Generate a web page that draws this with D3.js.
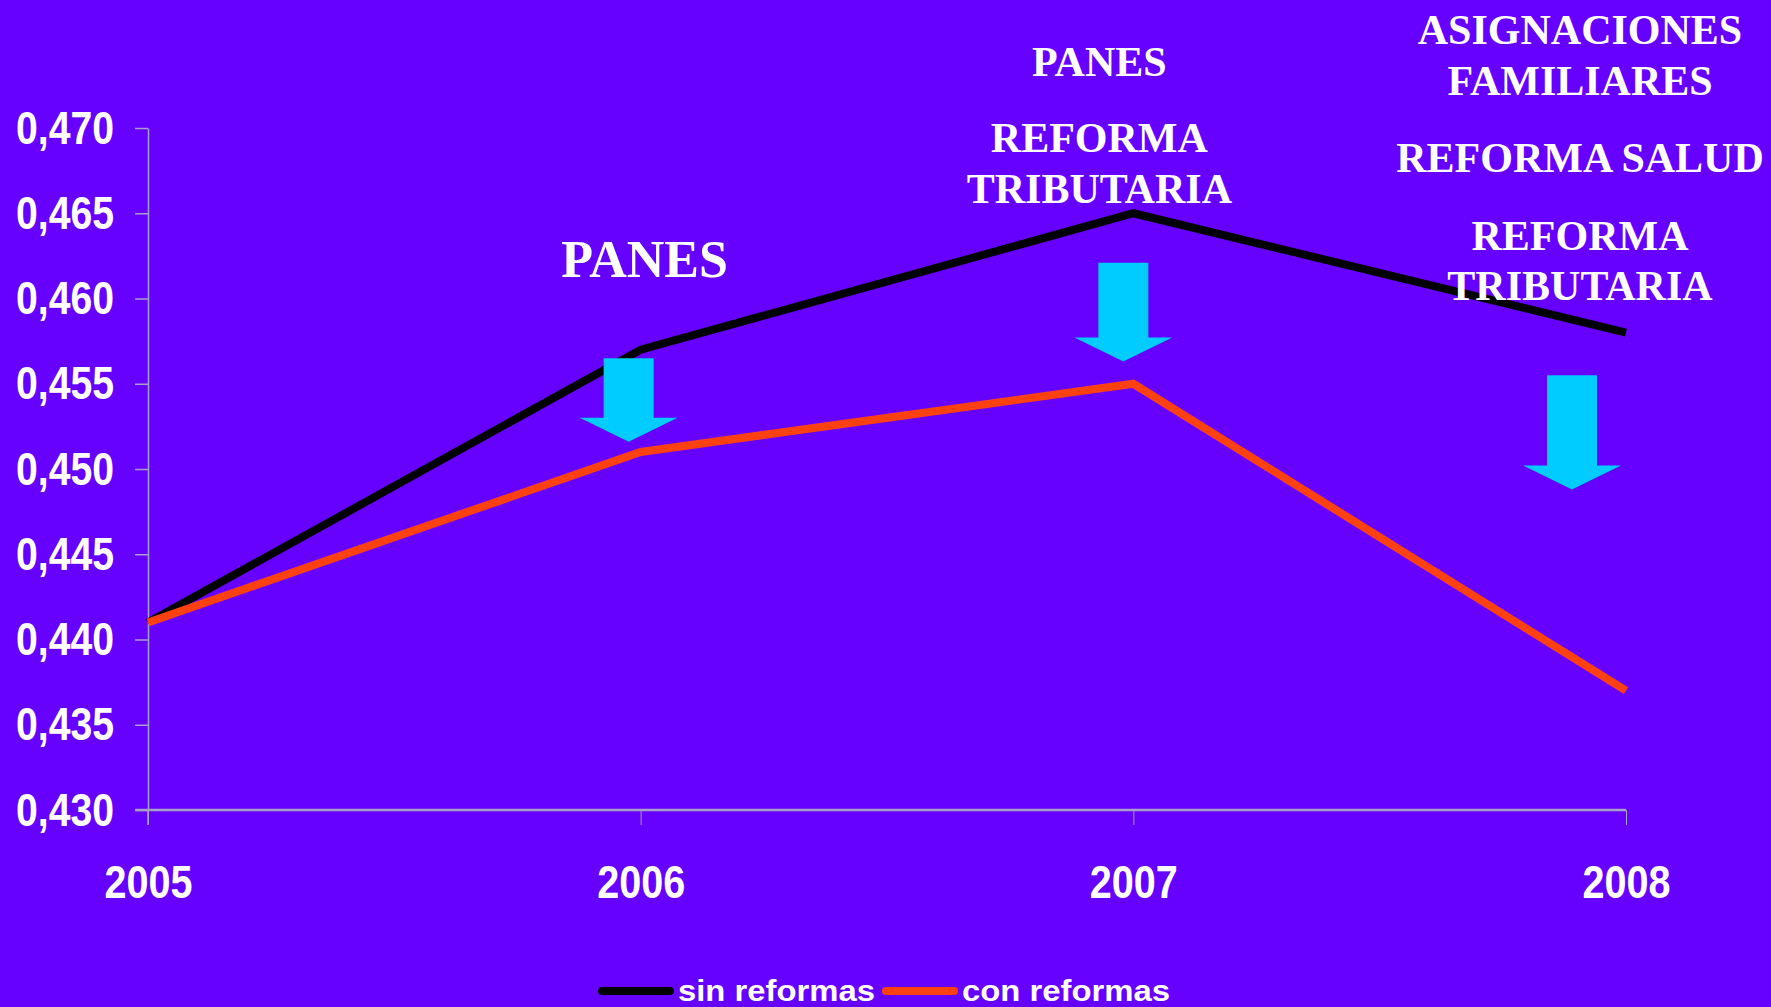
<!DOCTYPE html>
<html>
  <head>
    <meta charset="utf-8">
    <title>Indice de Gini con y sin reformas</title>
    <style>
      html, body { margin: 0; padding: 0; background: #6600ff; overflow: hidden; }
      svg { display: block; }
      .tick text { font-family: "Liberation Sans Narrow", "Arial Narrow", "Liberation Sans", sans-serif; font-weight: bold; fill: #fff; }
      .note { font-family: "Liberation Serif", "Times New Roman", serif; font-weight: bold; fill: #fff; text-anchor: middle; }
      .legend text { font-family: "Liberation Sans Narrow", "Arial Narrow", "Liberation Sans", sans-serif; font-weight: bold; fill: #fff; }
    </style>
  </head>
  <body>
    <script src="https://d3js.org/d3.v7.min.js"></script>
    <script>
      // data
      const years = ["2005", "2006", "2007", "2008"];
      const sinReformas = [0.441, 0.457, 0.465, 0.458];
      const conReformas = [0.441, 0.451, 0.455, 0.437];
      const yTicks = [0.430, 0.435, 0.440, 0.445, 0.450, 0.455, 0.460, 0.465, 0.470];
      const seriesNames = ["sin reformas", "con reformas"];

      // arrows: year they point at, top of shaft and tip (in index units)
      const arrowYears = ["2006", "2007", "2008"];
      const arrowTop = [0.4565, 0.4621, 0.4555];
      const arrowTip = [0.4516, 0.4563, 0.4488];

      const W = 1771, H = 1007;
      const colors = ["#000000", "#ff4010"];

      const svg = d3.select("body").append("svg")
        .attr("width", W)
        .attr("height", H);

      svg.append("rect").attr("width", W).attr("height", H).attr("fill", "#6600ff");

      const x = d3.scalePoint().domain(years).range([148, 1626]);
      const y = d3.scaleLinear().domain([0.430, 0.470]).range([810, 128]);

      // y axis
      const yAxis = svg.append("g")
        .attr("transform", "translate(148,0)")
        .call(d3.axisLeft(y)
          .tickValues(yTicks)
          .tickSize(13)
          .tickSizeOuter(0)
          .tickPadding(21)
          .tickFormat(d => d.toFixed(3).replace(".", ",")));
      yAxis.selectAll(".tick text")
        .attr("font-size", 47)
        .attr("textLength", 98)
        .attr("lengthAdjust", "spacingAndGlyphs");
      yAxis.selectAll("line, path").attr("stroke", "#a8a0c8").attr("stroke-width", 1.5);
      yAxis.append("line")
        .attr("x1", 0).attr("x2", 0)
        .attr("y1", y(0.430)).attr("y2", y(0.430) + 15)
        .attr("stroke", "#a8a0c8").attr("stroke-width", 1.5);

      // x axis
      const xAxis = svg.append("g")
        .attr("transform", "translate(0,810)")
        .call(d3.axisBottom(x)
          .tickSize(15)
          .tickSizeOuter(0)
          .tickPadding(40));
      xAxis.select(".domain").remove();
      xAxis.selectAll(".tick text")
        .attr("font-size", 47)
        .attr("textLength", 88)
        .attr("lengthAdjust", "spacingAndGlyphs");
      xAxis.selectAll("line").attr("stroke", "#a8a0c8").attr("stroke-width", 1);
      xAxis.append("line")
        .attr("x1", 135).attr("x2", x("2008"))
        .attr("y1", 0).attr("y2", 0)
        .attr("stroke", "#a8a0c8").attr("stroke-width", 2.5);

      // lines
      const line = d3.line()
        .x((d, i) => x(years[i]))
        .y(d => y(d));

      [sinReformas, conReformas].forEach((s, k) => {
        svg.append("path")
          .datum(s)
          .attr("d", line)
          .attr("fill", "none")
          .attr("stroke", colors[k])
          .attr("stroke-width", 8)
          .attr("stroke-linejoin", "miter");
      });

      // arrows
      const arrowDx = [-12, -10, -54];
      const shaftW = 50, headW = 98, headH = 24;
      arrowYears.forEach((yr, i) => {
        const cx = x(yr) + arrowDx[i];
        const top = y(arrowTop[i]);
        const tip = y(arrowTip[i]);
        const base = tip - headH;
        const pts = [
          [cx - shaftW / 2, top], [cx + shaftW / 2, top], [cx + shaftW / 2, base],
          [cx + headW / 2, base], [cx, tip], [cx - headW / 2, base], [cx - shaftW / 2, base]
        ];
        svg.append("polygon")
          .attr("points", pts.map(p => p.join(",")).join(" "))
          .attr("fill", "#00ccff");
      });

      // annotations
      const notes = [
        { t: "PANES", x: x("2006") + 4, y: 277, s: 52 },
        { t: "PANES", x: x("2007") - 34, y: 76, s: 42 },
        { t: "REFORMA", x: x("2007") - 34, y: 152, s: 42 },
        { t: "TRIBUTARIA", x: x("2007") - 34, y: 203, s: 42 },
        { t: "ASIGNACIONES", x: x("2008") - 46, y: 44, s: 42 },
        { t: "FAMILIARES", x: x("2008") - 46, y: 95, s: 42 },
        { t: "REFORMA SALUD", x: x("2008") - 46, y: 172, s: 42 },
        { t: "REFORMA", x: x("2008") - 46, y: 250, s: 42 },
        { t: "TRIBUTARIA", x: x("2008") - 46, y: 300, s: 42 }
      ];
      svg.selectAll(".note")
        .data(notes)
        .enter()
        .append("text")
        .attr("class", "note")
        .attr("x", d => d.x)
        .attr("y", d => d.y)
        .attr("font-size", d => d.s)
        .text(d => d.t);

      // legend
      const legend = svg.append("g").attr("class", "legend");
      const legX = [598, 882];
      const legTextLen = [197, 208];
      seriesNames.forEach((n, i) => {
        legend.append("line")
          .attr("x1", legX[i] + 4).attr("x2", legX[i] + 72)
          .attr("y1", 991).attr("y2", 991)
          .attr("stroke", colors[i])
          .attr("stroke-width", 8)
          .attr("stroke-linecap", "round");
        legend.append("text")
          .attr("x", legX[i] + 80)
          .attr("y", 1001)
          .attr("font-size", 30)
          .attr("textLength", legTextLen[i])
          .attr("lengthAdjust", "spacingAndGlyphs")
          .text(n);
      });
    </script>
  </body>
</html>
